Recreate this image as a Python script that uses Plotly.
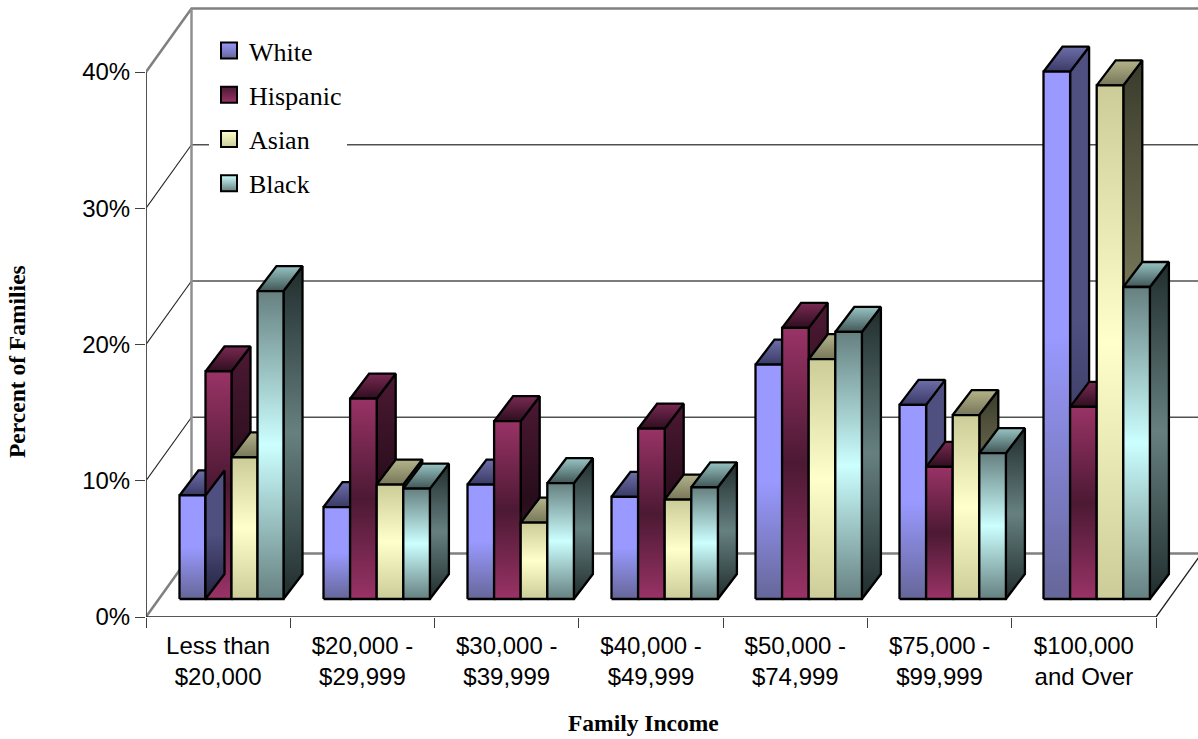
import plotly.graph_objects as go

categories = ["Less than<br>$20,000", "$20,000 -<br>$29,999", "$30,000 -<br>$39,999", "$40,000 -<br>$49,999",
              "$50,000 -<br>$74,999", "$75,000 -<br>$99,999", "$100,000<br>and Over"]
white = [7.6, 6.75, 8.4, 7.5, 17.2, 14.25, 38.7]
hispanic = [16.7, 14.7, 13.05, 12.5, 19.9, 9.7, 14.1]
asian = [10.4, 8.4, 5.6, 7.3, 17.6, 13.5, 37.7]
black = [22.6, 8.1, 8.5, 8.2, 19.6, 10.7, 22.9]
series_names = ["White", "Hispanic", "Asian", "Black"]
series_values = [white, hispanic, asian, black]
y_ticks = [0, 10, 20, 30, 40]
y_tick_labels = ["0%", "10%", "20%", "30%", "40%"]

# Pixel layout of the figure
W, H = 1198, 739
L, B = 146, 122
PX_X = 144.29            # px per category
PX_Y = 13.625            # px per percent
DX = 45.5 / PX_X         # oblique wall offset in axis units
DY = 63.5 / PX_Y
Z0 = 18 / 63.5           # front of bars in wall-depth units
DZ = 25 / 63.5           # bar depth in wall-depth units
BAR_DX = 19.0 / PX_X     # bar depth, horizontal part
BAR = 26.6 / PX_X
START = (179.5 - L) / PX_X
STEP = 144 / PX_X
BASE = Z0 * DY


def proj(x, y, z):
    return x + z * DX, y + z * DY


def pb(x, y, back):
    """Position on a bar: x and y on its front face, back=1 for its rear edge."""
    return x + back * BAR_DX, y + BASE + back * DZ * DY


def scale(stops):
    n = len(stops) - 1
    return [[i / n, c] for i, c in enumerate(stops)]


# gradient stops listed from lowest to highest y value
front = {
    "White": ["#666699", "#9999FF", "#9999FF"],
    "Hispanic": ["#993366", "#4C1933", "#993366"],
    "Asian": ["#CCCC99", "#FFFFCC", "#CCCC99"],
    "Black": ["#668080", "#CCFFFF", "#668080"],
}
side = {
    "White": ["#22223F", "#4F4F80", "#4F4F80"],
    "Hispanic": ["#4C1933", "#280D1B", "#4C1933"],
    "Asian": ["#3A3A2C", "#80805F", "#3A3A2C"],
    "Black": ["#202C2C", "#668080", "#202C2C"],
}
top = {
    "White": ["#3A3A66", "#6E6EAA"],
    "Hispanic": ["#2E0E1F", "#7A2952"],
    "Asian": ["#77775A", "#B3B38A"],
    "Black": ["#405656", "#99C4C4"],
}

fig = go.Figure()


def line(points, color, width):
    xs, ys = zip(*points)
    fig.add_trace(go.Scatter(x=xs, y=ys, mode="lines", line=dict(color=color, width=width),
                             hoverinfo="skip", showlegend=False))


# back wall and floor
n = len(categories)
XMAX = (W - L) / PX_X
for t in y_ticks[1:4]:
    line([proj(0, t, 1), proj(XMAX, t, 1)], "#505050", 1.3)
    line([proj(0, t, 0), proj(0, t, 1)], "#202020", 1.1)
line([proj(0, 40, 0), proj(0, 40, 1), proj(XMAX, 40, 1)], "#808080", 2.5)
line([proj(0, 0, 0), proj(0, 0, 1), proj(XMAX, 0, 1)], "#808080", 2.5)
line([proj(0, 0, 1), proj(0, 40, 1)], "#909090", 2.5)
line([proj(0, 0, 0), proj(0, 40, 0)], "#404040", 1.8)
line([proj(0, 0, 0), proj(n, 0, 0), proj(n, 0, 1)], "#202020", 1.3)


def face(points, stops):
    xs, ys = zip(*(points + [points[0]]))
    fig.add_trace(go.Scatter(x=xs, y=ys, mode="lines", fill="toself",
                             fillgradient=dict(type="vertical", colorscale=scale(stops)),
                             line=dict(color="black", width=2.3), hoverinfo="skip", showlegend=False))


def bar_side(x1, v, name):
    face([pb(x1, 0, 0), pb(x1, 0, 1), pb(x1, v, 1), pb(x1, v, 0)], side[name])


for i in range(n):
    for j, name in enumerate(series_names):
        v = series_values[j][i]
        bw = 26.0 / PX_X if i == 0 else BAR
        x0 = START + i * STEP + j * bw
        x1 = x0 + bw
        bar_side(x1, v, name)
        face([pb(x0, v, 0), pb(x1, v, 0), pb(x1, v, 1), pb(x0, v, 1)], top[name])
        face([pb(x0, 0, 0), pb(x1, 0, 0), pb(x1, v, 0), pb(x0, v, 0)], front[name])
        if i == 0 and j == 1:
            # the first group's White side panel sits over the Hispanic bar
            bar_side(START + 26.0 / PX_X, white[0], "White")

# legend entries
for name in series_names:
    fig.add_trace(go.Scatter(
        x=[None], y=[None], mode="markers", name=name, legendgroup=name,
        marker=dict(symbol="square", size=16, color=front[name][1],
                    gradient=dict(type="vertical", color=front[name][0]),
                    line=dict(color="black", width=2))))

fig.update_layout(
    width=W, height=H, autosize=False,
    margin=dict(l=L, r=0, t=0, b=B, pad=0),
    paper_bgcolor="white", plot_bgcolor="white",
    font=dict(family="Liberation Sans", color="black"),
    xaxis=dict(range=[0, XMAX], showgrid=False, zeroline=False, showline=False,
               tickmode="array", tickvals=[i + 0.5 for i in range(n)], ticktext=categories,
               ticks="", tickfont=dict(size=24, family="Liberation Sans"), ticklabelstandoff=12,
               minor=dict(tickmode="array", tickvals=list(range(n + 1)), ticks="outside",
                          ticklen=10, tickcolor="#404040", tickwidth=1.3, showgrid=False)),
    yaxis=dict(range=[0, (H - B) / PX_Y], showgrid=False, zeroline=False, showline=False,
               tickmode="array", tickvals=y_ticks, ticktext=y_tick_labels, ticks="outside",
               ticklen=10, tickcolor="#404040", tickwidth=1.3,
               tickfont=dict(size=24, family="Liberation Sans")),
    legend=dict(x=(209 - L) / (W - L), y=(H - B - 27) / (H - B), xanchor="left", yanchor="top",
                bgcolor="white", borderwidth=0, tracegroupgap=7.5, itemsizing="trace",
                font=dict(family="Liberation Serif", size=26, color="black"),
                entrywidth=125, entrywidthmode="pixels"),
    annotations=[
        dict(text="<b>Family Income</b>", xref="paper", yref="paper", showarrow=False,
             x=(643 - L) / (W - L), y=(H - B - 723) / (H - B), xanchor="center", yanchor="middle",
             font=dict(family="Liberation Serif", size=23.5, color="black")),
        dict(text="<b>Percent of Families</b>", xref="paper", yref="paper", showarrow=False,
             x=(17 - L) / (W - L), y=(H - B - 362) / (H - B), xanchor="center", yanchor="middle",
             textangle=-90, font=dict(family="Liberation Serif", size=23.5, color="black")),
    ],
)

fig.write_html("out.html", config={"displayModeBar": False},
               post_script="document.body.style.margin='0';window.dispatchEvent(new Event('resize'));")
